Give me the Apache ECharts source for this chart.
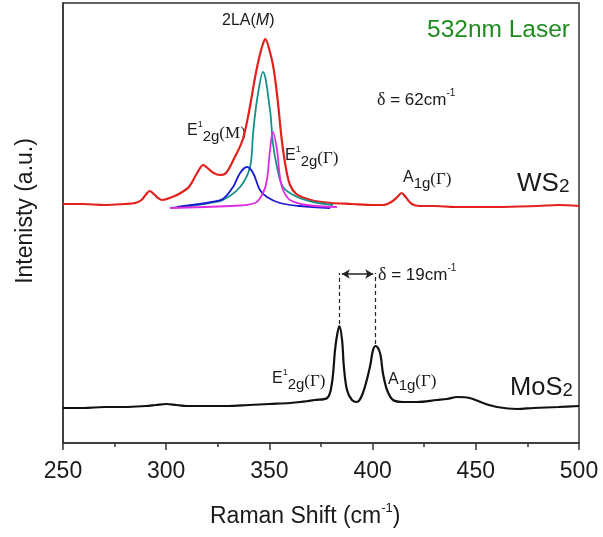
<!DOCTYPE html>
<html><head><meta charset="utf-8">
<script src="https://cdn.jsdelivr.net/npm/echarts@6/dist/echarts.min.js"></script>
<style>html,body{margin:0;padding:0;background:#fff}#c{width:603px;height:537px}</style>
</head><body><div id="c"></div>
<script>
// x-axis ticks
const xTicks = [250, 300, 350, 400, 450, 500];
// WS2 spectrum (red), intensity in arbitrary units (offset stack)
const wsX = [250,260,270,280,285,288,290,292,294,296,298,303,307,311,315,318,320,323,326,329,333,337,340,343,345,347,348,350,352,354,356,358,360,363,367,372,380,390,400,405,409,412,414,416,419,423,430,440,460,480,490,500];
const wsY = [239,239,238,239,240,243,248,252,249,245,243,246,250,256,270,278,275,270,268,270,285,303,330,365,385,400,404,393,375,343,303,275,258,249,245,242,240,239,238,238,241,246,250,246,239,237,237,236,236,237,238,237];
// 2LA(M) fit (teal)
const laX = [301.8,311.5,321,327.5,335.8,340.6,342.1,344.0,346.9,350.3,351.7,353.7,356.6,363.4,371.1,380.8];
const laY = [235,237,240,243,256,276,310,343,371,333,300,276,256,246,241,238];
// E1_2g(M) fit (blue)
const emX = [305.2,316.4,322,327.5,332.4,335.8,339.1,342.1,345.4,348.8,355.1,364.8,379.4];
const emY = [236,239,241,244,256,270,276,270,253,246,240,237,235];
// E1_2g(Gamma) fit (magenta)
const egX = [301.8,330.9,343,346.9,348.8,350.3,351.7,353.7,355.1,356.6,360,368.2,382.7];
const egY = [235,237,240,250,263,293,311,293,266,253,243,238,236];
// MoS2 spectrum (black)
const moX = [250,260,270,280,290,295,300,305,310,320,330,340,350,360,365,372,378,380.3,381.8,382.8,383.9,385.2,386.1,387.6,390,392.4,395.3,398.7,400.2,401.5,403.6,405,407,409.9,415,421.5,431.2,436,441,447,453.5,460.3,470,478,490,500];
const moY = [35,35,36,36,37,38,39,38,37,37,37,38,39,40,41,43,45,60,93,108,117,103,76,53,43,41,50,76,93,97,90,70,53,43,41,41,43,44,46,45,40,36,34,35,36,37];
// peak positions for the delta annotation
const moPeaks = [383.9, 401.5];

const pair = (xs, ys) => xs.map((x, i) => [x, ys[i]]);

const cv = document.createElement('canvas').getContext('2d');
const SANS = '"Liberation Sans", Arial, sans-serif';
const SERIF = '"Liberation Serif", "Times New Roman", serif';
function fontStr(p){ return (p.italic ? 'italic ' : '') + p.size + 'px ' + (p.family || SANS); }
function label(x, cy, parts, fill){
  let cx = 0; const children = [];
  parts.forEach(p => {
    const f = fontStr(p);
    cv.font = f;
    children.push({type:'text', x: cx, y: p.dy || 0, style:{text:p.t, font:f, fill: fill || '#1a1a1a', verticalAlign:'middle', align:'left'}});
    cx += cv.measureText(p.t).width + (p.gap || 0);
  });
  return {type:'group', x:x, y:cy, children:children, silent:true};
}
function E12g(x, cy, sym, symFamily){
  return label(x, cy, [
    {t:'E', size:16},
    {t:'1', size:9, dy:-6},
    {t:'2g', size:15, dy:6},
    {t:'(' + sym + ')', size:17, dy:3, family: symFamily || SERIF}
  ]);
}
function A1g(x, cy){
  return label(x, cy, [
    {t:'A', size:16},
    {t:'1g', size:15, dy:6},
    {t:'(Γ)', size:17, dy:2, family: SERIF}
  ]);
}

const chart = echarts.init(document.getElementById('c'), null, {renderer:'canvas'});
const fitStyle = (c) => ({type:'line', showSymbol:false, smooth:0.35, lineStyle:{color:c, width:1.8}, itemStyle:{color:c}, z:3});

chart.setOption({
  animation:false,
  backgroundColor:'#fff',
  grid:{left:63, right:24, top:3, bottom:94, show:true, borderColor:'#333', borderWidth:1.5, backgroundColor:'transparent'},
  xAxis:{type:'value', min:xTicks[0], max:xTicks[xTicks.length-1], interval:50,
    axisLine:{show:true, lineStyle:{color:'#333', width:1.5}},
    axisTick:{show:true, length:7, lineStyle:{color:'#333', width:1.5}},
    minorTick:{show:true, splitNumber:2, length:4, lineStyle:{color:'#333', width:1.5}},
    splitLine:{show:false},
    axisLabel:{fontSize:23, color:'#1a1a1a', fontFamily:SANS, margin:17}
  },
  yAxis:{type:'value', min:0, max:440, axisLine:{show:true, lineStyle:{color:'#333', width:1.5}}, axisTick:{show:false}, axisLabel:{show:false}, splitLine:{show:false}},
  series:[
    {type:'line', name:'WS2', data:pair(wsX, wsY), showSymbol:false, smooth:0.35, lineStyle:{color:'#e3211c', width:2.2}, itemStyle:{color:'#e3211c'}, z:2},
    Object.assign(fitStyle('#15908a'), {name:'2LA(M)', data:pair(laX, laY)}),
    Object.assign(fitStyle('#1a1ad0'), {name:'E12g(M)', data:pair(emX, emY)}),
    Object.assign(fitStyle('#e02be0'), {name:'E12g(G)', data:pair(egX, egY)}),
    {type:'line', name:'MoS2', data:pair(moX, moY), showSymbol:false, smooth:0.35, lineStyle:{color:'#111', width:2.2}, itemStyle:{color:'#111'}, z:2,
      markLine:{silent:true, symbol:['none','none'], label:{show:false},
        lineStyle:{color:'#222', width:1.2, type:[4,3]},
        data:[
          [{coord:[moPeaks[0],119]},{coord:[moPeaks[0],170]}],
          [{coord:[moPeaks[1],99]},{coord:[moPeaks[1],170]}],
          [{coord:[moPeaks[0]+1.2,169], symbol:'arrow', symbolSize:[7,8], lineStyle:{type:'solid', width:1.5}},
           {coord:[moPeaks[1]-1.2,169], symbol:'arrow', symbolSize:[7,8], lineStyle:{type:'solid', width:1.5}}]
        ]}
    }
  ],
  graphic:[
    label(222, 21, [{t:'2LA(', size:16},{t:'M', size:16, italic:true},{t:')', size:16}]),
    E12g(187, 131, 'M'),
    E12g(285, 156, 'Γ'),
    A1g(403, 178),
    E12g(272, 379, 'Γ'),
    A1g(388, 380),
    label(377, 100, [{t:'δ', size:18, family:SERIF},{t:' = 62cm', size:17},{t:'-1', size:10, dy:-7}]),
    label(378, 275, [{t:'δ', size:18, family:SERIF},{t:' = 19cm', size:17},{t:'-1', size:10, dy:-7}]),
    label(427, 30, [{t:'532nm Laser', size:24.5}], '#1e8c1e'),
    label(517, 184, [{t:'WS', size:26},{t:'2', size:19, dy:3}]),
    label(510, 388, [{t:'MoS', size:25.5},{t:'2', size:18.5, dy:3}]),
    label(210, 517, [{t:'Raman Shift (cm', size:23},{t:'-1', size:13, dy:-9},{t:')', size:23}]),
    {type:'text', x:26, y:211, rotation:Math.PI/2, silent:true, style:{text:'Intenisty (a.u.)', font:'23px ' + SANS, fill:'#1a1a1a', align:'center', verticalAlign:'middle'}}
  ]
});
</script></body></html>
